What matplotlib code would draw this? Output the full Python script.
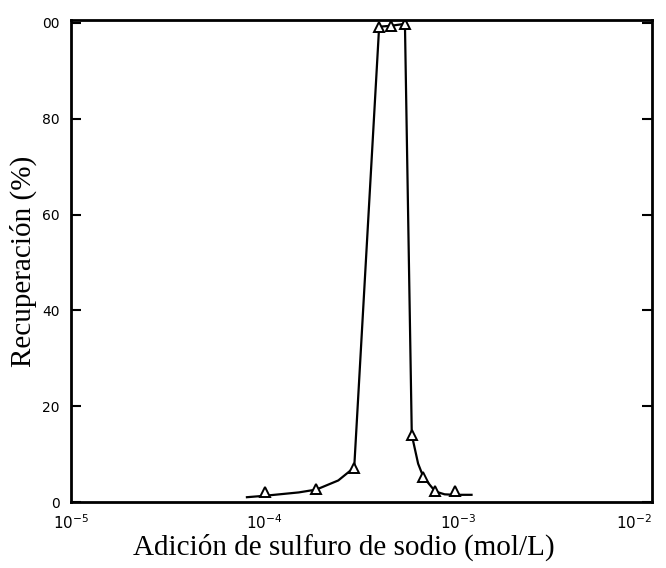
import numpy as np
import matplotlib.pyplot as plt

# Puntos medidos (triángulos)
conc = [1.0e-4, 1.85e-4, 2.9e-4, 3.9e-4, 4.5e-4, 5.3e-4, 5.75e-4, 6.6e-4, 7.6e-4, 9.6e-4]
recup = [2.0, 2.8, 7.2, 99.2, 99.4, 99.8, 14.0, 5.2, 2.4, 2.3]

# Curva trazada a mano
curva_x = [8.1e-5, 1.0e-4, 1.5e-4, 1.85e-4, 2.4e-4, 2.9e-4, 3.9e-4, 4.5e-4, 5.3e-4,
           5.75e-4, 6.2e-4, 6.6e-4, 7.6e-4, 8.5e-4, 9.6e-4, 1.17e-3]
curva_y = [1.0, 1.3, 2.0, 2.6, 4.5, 7.2, 99.2, 99.4, 99.8,
           14.0, 8.0, 5.2, 2.2, 1.6, 1.5, 1.5]

ytick_vals = [0, 20, 40, 60, 80, 100]
ytick_txt = ['0', '20', '40', '60', '80', '00']
xtick_vals = [1e-5, 1e-4, 1e-3, 1e-2]
xtick_txt = [r'$10^{-5}$', r'$10^{-4}$', r'$10^{-3}$', r'$10^{-2}$']

plt.rcParams['mathtext.fontset'] = 'dejavusans'

fig = plt.figure(figsize=(6.66, 5.68), dpi=100)
ax = fig.add_axes([71 / 666, 1 - 502 / 568, 581 / 666, 482 / 568])

ax.plot(curva_x, curva_y, color='black', lw=1.6)
ax.plot(conc, recup, linestyle='none', marker='^', markersize=7,
        markerfacecolor='white', markeredgecolor='black', markeredgewidth=1.4)

ax.set_xscale('log')
ax.set_xlim(1e-5, 1e-2)
ax.set_ylim(0, 100.6)

ax.set_yticks(ytick_vals)
ax.set_yticklabels(ytick_txt, fontsize=10)
ax.set_xticks(xtick_vals)
ax.set_xticklabels(xtick_txt, fontsize=11)
ax.xaxis.set_minor_locator(plt.NullLocator())
ax.tick_params(axis='y', direction='in', length=7, width=1.5, left=True, right=True, pad=8)
ax.tick_params(axis='x', direction='in', length=0, pad=8)
lbl = ax.get_xticklabels()
lbl[-1].set_horizontalalignment('right')

for s in ax.spines.values():
    s.set_linewidth(2)

ax.set_xlabel('Adición de sulfuro de sodio (mol/L)', fontsize=21,
              family='Liberation Serif')
ax.xaxis.set_label_coords(0.47, -0.065)
ax.set_ylabel('Recuperación (%)', fontsize=21, family='Liberation Serif', labelpad=4)

fig.savefig('out.png', dpi=100)
